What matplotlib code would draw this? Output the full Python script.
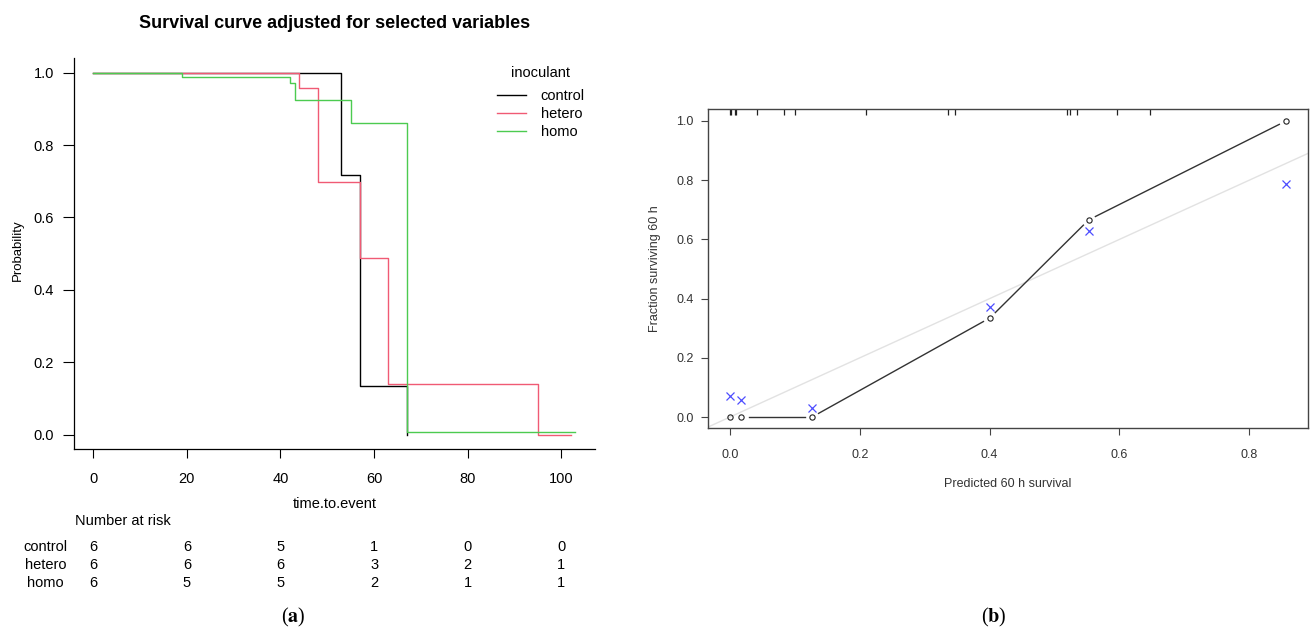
import numpy as np
import matplotlib
matplotlib.use("Agg")
import matplotlib.pyplot as plt
from matplotlib import transforms

plt.rcParams['font.family'] = ['Liberation Sans', 'DejaVu Sans']
plt.rcParams['mathtext.fontset'] = 'stix'

# ---- (a) adjusted survival curves ----
groups = ['control', 'hetero', 'homo']
colors = ['black', '#F05A74', '#4CCB50']
ctrl_t = [0, 53, 57, 67]
ctrl_s = [1.0, 0.718, 0.134, 0.0]
het_t = [0, 44, 48, 57, 63, 95, 102]
het_s = [1.0, 0.957, 0.698, 0.489, 0.141, 0.0, 0.0]
homo_t = [0, 19, 42, 43, 55, 67, 103]
homo_s = [1.0, 0.988, 0.973, 0.924, 0.86, 0.007, 0.007]

risk_times = [0, 20, 40, 60, 80, 100]
risk_ctrl = [6, 6, 5, 1, 0, 0]
risk_het = [6, 6, 6, 3, 2, 1]
risk_homo = [6, 5, 5, 2, 1, 1]

# ---- (b) calibration ----
pred = [0.0, 0.0175, 0.1264, 0.4006, 0.5527, 0.8567]
observed = [0.0, 0.0, 0.0, 0.335, 0.666, 1.0]
corrected = [0.072, 0.058, 0.029, 0.372, 0.629, 0.786]
rug = [0.0, 0.002, 0.007, 0.009, 0.041, 0.084, 0.100, 0.210, 0.336, 0.347,
       0.519, 0.524, 0.535, 0.597, 0.647]

W, H = 1312, 630
fig = plt.figure(figsize=(W / 100, H / 100), dpi=100)

def fx(px):
    return px / W

def fy(py):
    return 1 - py / H

# left panel
ax1 = fig.add_axes([fx(74), fy(449), fx(595) - fx(74), fy(58.3) - fy(449)])
for name, t, s, col in zip(groups, [ctrl_t, het_t, homo_t],
                           [ctrl_s, het_s, homo_s], colors):
    ax1.step(t, s, where='post', color=col, lw=1.0, label=name)
ax1.set_xlim(-4.12, 107.2)
ax1.set_ylim(-0.04, 1.04)
ax1.spines['top'].set_visible(False)
ax1.spines['right'].set_visible(False)
for sp in ['left', 'bottom']:
    ax1.spines[sp].set_linewidth(0.9)
ax1.set_xticks(risk_times)
ax1.set_yticks([0, 0.2, 0.4, 0.6, 0.8, 1.0])
ax1.set_yticklabels(['%.1f' % v for v in ax1.get_yticks()])
ax1.tick_params(axis='y', length=7.7, width=0.8, pad=6.7, labelsize=10.5)
ax1.tick_params(axis='x', length=6.7, width=0.8, pad=10, labelsize=10.5)

leg = ax1.legend(title='inoculant', loc='upper left',
                 bbox_to_anchor=(fx(497), fy(66)), bbox_transform=fig.transFigure,
                 frameon=False, fontsize=10.5, title_fontsize=10.5,
                 handlelength=2.0, handletextpad=1.0, labelspacing=0.27,
                 borderpad=0, borderaxespad=0)
leg._legend_box.sep = 6.5  # extra room under the legend title

fig.text(fx(335), fy(23), 'Survival curve adjusted for selected variables',
         fontsize=13, fontweight='bold', ha='center', va='center')
fig.text(fx(334.5), fy(504), 'time.to.event', fontsize=10.5, ha='center', va='center')
fig.text(fx(18.3), fy(250), 'Probability', fontsize=9.5, rotation=90,
         ha='center', va='center')

# number at risk table
fig.text(fx(75), fy(521), 'Number at risk', fontsize=10.5, ha='left', va='center')
tr = transforms.blended_transform_factory(ax1.transData, fig.transFigure)
for name, row, yp in zip(groups, [risk_ctrl, risk_het, risk_homo], [547.3, 565.3, 582.7]):
    fig.text(fx(45.5), fy(yp), name, fontsize=10.5, ha='center', va='center')
    for t, n in zip(risk_times, row):
        ax1.text(t, fy(yp), str(n), transform=tr, fontsize=10.5,
                 ha='center', va='center', clip_on=False)

# right panel
ax2 = fig.add_axes([fx(707.7), fy(428.3), fx(1308.3) - fx(707.7), fy(109) - fy(428.3)])
ax2.set_xlim(-0.0343, 0.891)
ax2.set_ylim(-0.038, 1.0405)
ax2.axline((0, 0), slope=1, color='#e2e2e2', lw=1.0, zorder=1)

# connecting line with gaps around the points (like R type="b")
gap = 7.5
pts = ax2.transData.transform(np.column_stack([pred, observed]))
inv = ax2.transData.inverted()
for i in range(len(pts) - 1):
    d = pts[i + 1] - pts[i]
    L = np.hypot(*d)
    if L <= 2 * gap:
        continue
    u = d / L
    seg = inv.transform(np.array([pts[i] + u * gap, pts[i + 1] - u * gap]))
    ax2.plot(seg[:, 0], seg[:, 1], color='#333333', lw=1.0, zorder=2)

ax2.plot(pred, observed, 'o', mfc='none', mec='#222222', ms=3.8, mew=0.8, zorder=3)
ax2.plot(pred, corrected, 'x', color='#4D4DFF', ms=5.5, mew=0.9, zorder=3)

rug_tr = transforms.blended_transform_factory(ax2.transData, ax2.transAxes)
ax2.vlines(rug, 1 - 6 / 319.3, 1, transform=rug_tr, color='#222222', lw=0.9)

for sp in ax2.spines.values():
    sp.set_color('#444444')
    sp.set_linewidth(1.0)
ax2.set_xticks([0, 0.2, 0.4, 0.6, 0.8])
ax2.set_xticklabels(['%.1f' % v for v in ax2.get_xticks()])
ax2.set_yticks([0, 0.2, 0.4, 0.6, 0.8, 1.0])
ax2.set_yticklabels(['%.1f' % v for v in ax2.get_yticks()])
ax2.tick_params(axis='x', length=5.2, width=0.8, pad=9.5, labelsize=9,
                color='#444444', labelcolor='#333333')
ax2.tick_params(axis='y', length=4.8, width=0.8, pad=5.5, labelsize=9,
                color='#444444', labelcolor='#333333')
fig.text(fx(1008), fy(484.3), 'Predicted 60 h survival', fontsize=9,
         color='#333333', ha='center', va='center')
fig.text(fx(655), fy(268.5), 'Fraction surviving 60 h', fontsize=9,
         color='#333333', rotation=90, ha='center', va='center')

# panel captions
fig.text(fx(293), fy(617), r'($\mathbf{a}$)', fontsize=14.5, family='Liberation Serif',
         ha='center', va='center')
fig.text(fx(994), fy(617), r'($\mathbf{b}$)', fontsize=14.5, family='Liberation Serif',
         ha='center', va='center')

fig.savefig('out.png', dpi=100)
